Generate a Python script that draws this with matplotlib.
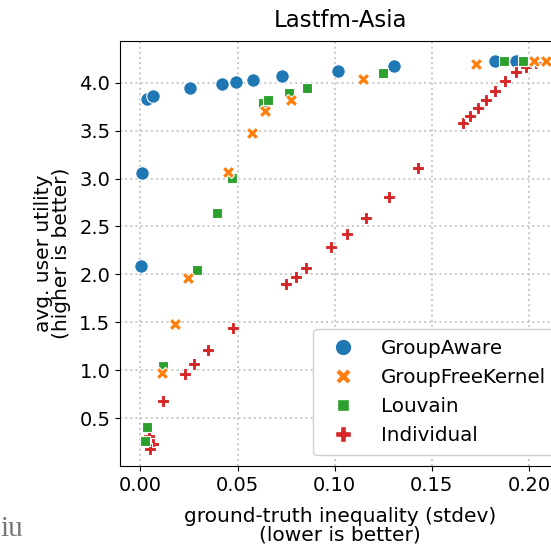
import matplotlib
matplotlib.use("Agg")
import matplotlib.pyplot as plt
from matplotlib.lines import Line2D

# values
ga_x = [0.0032, 0.0066, 0.0256, 0.042, 0.049, 0.058, 0.0006, 0.0729, 0.1015, 0.1308, 0.1823, 0.1936, 0.0001]
ga_y = [3.83, 3.865, 3.94, 3.99, 4.007, 4.03, 3.06, 4.07, 4.125, 4.177, 4.23, 4.23, 2.087]

gfk_x = [0.0641, 0.0573, 0.0453, 0.0773, 0.1145, 0.1728, 0.2027, 0.2087, 0.0243, 0.0177, 0.0109]
gfk_y = [3.70, 3.476, 3.067, 3.823, 4.035, 4.20, 4.227, 4.227, 1.966, 1.486, 0.966]

louv_x = [0.0631, 0.0474, 0.0657, 0.0763, 0.0857, 0.125, 0.1873, 0.197, 0.0395, 0.0292, 0.0117, 0.0035, 0.0023]
louv_y = [3.785, 3.007, 3.817, 3.896, 3.945, 4.104, 4.226, 4.229, 2.64, 2.046, 1.042, 0.403, 0.257]

ind_x = [0.1662, 0.1698, 0.1739, 0.1779, 0.1827, 0.1878, 0.1931, 0.1985, 0.2035, 0.1431,
         0.1279, 0.1159, 0.1065, 0.0982, 0.0854, 0.0799, 0.0751,
         0.0477, 0.0348, 0.0277, 0.0229, 0.0114, 0.0045, 0.0063, 0.0052]
ind_y = [3.583, 3.653, 3.737, 3.82, 3.917, 4.02, 4.108, 4.167, 4.21, 3.108,
         2.806, 2.587, 2.42, 2.289, 2.07, 1.976, 1.903,
         1.445, 1.212, 1.067, 0.955, 0.677, 0.3125, 0.226, 0.181]

xticks = [0.00, 0.05, 0.10, 0.15, 0.20]
yticks = [0.5, 1.0, 1.5, 2.0, 2.5, 3.0, 3.5, 4.0]

blue, orange, green, red = "#1f77b4", "#ff7f0e", "#2ca02c", "#d62728"

fig = plt.figure(figsize=(5.51, 5.48), dpi=100)
ax = fig.add_axes([120 / 551, 82 / 548, 440 / 551, 425.5 / 548])

ax.scatter(ga_x, ga_y, s=95, marker="o", color=blue, edgecolor="white", linewidth=0.8, zorder=3)
ax.scatter(ind_x, ind_y, s=85, marker="P", color=red, edgecolor="white", linewidth=0.8, zorder=4)
ax.scatter(louv_x, louv_y, s=48, marker="s", color=green, edgecolor="white", linewidth=0.8, zorder=5)
ax.scatter(gfk_x, gfk_y, s=80, marker="X", color=orange, edgecolor="white", linewidth=0.8, zorder=6)

ax.set_xlim(-0.0105, 0.216)
ax.set_ylim(0.0, 4.44)
ax.set_xticks(xticks)
ax.set_yticks(yticks)
ax.tick_params(labelsize=14)
ax.grid(True, linestyle=":", color="#c8c8c8", linewidth=1.4)
ax.set_axisbelow(True)

ax.set_title("Lastfm-Asia", fontsize=16.5, pad=10)
ax.set_xlabel("ground-truth inequality (stdev)\n(lower is better)", fontsize=14.5,
              linespacing=0.95, labelpad=9)
ax.set_ylabel("avg. user utility\n(higher is better)", fontsize=14.5, linespacing=0.95, labelpad=6)

handles = [
    Line2D([], [], linestyle="", marker="o", color=blue, markeredgecolor="white", markersize=12),
    Line2D([], [], linestyle="", marker="X", color=orange, markeredgecolor="white", markersize=11),
    Line2D([], [], linestyle="", marker="s", color=green, markeredgecolor="white", markersize=8),
    Line2D([], [], linestyle="", marker="P", color=red, markeredgecolor="white", markersize=11),
]
labels = ["GroupAware", "GroupFreeKernel", "Louvain", "Individual"]
ax.legend(handles, labels, loc="lower left", bbox_to_anchor=((313 - 120) / 440, (466 - 455) / 425.5),
          fontsize=14.3, borderaxespad=0, handletextpad=0.9, labelspacing=0.5, borderpad=0.5,
          framealpha=1, edgecolor="#d0d0d0")

fig.text(0.0, 548 - 536, "iu", transform=None, fontsize=21, color="#777777", family="Liberation Serif")

fig.savefig("out.png", dpi=100)
